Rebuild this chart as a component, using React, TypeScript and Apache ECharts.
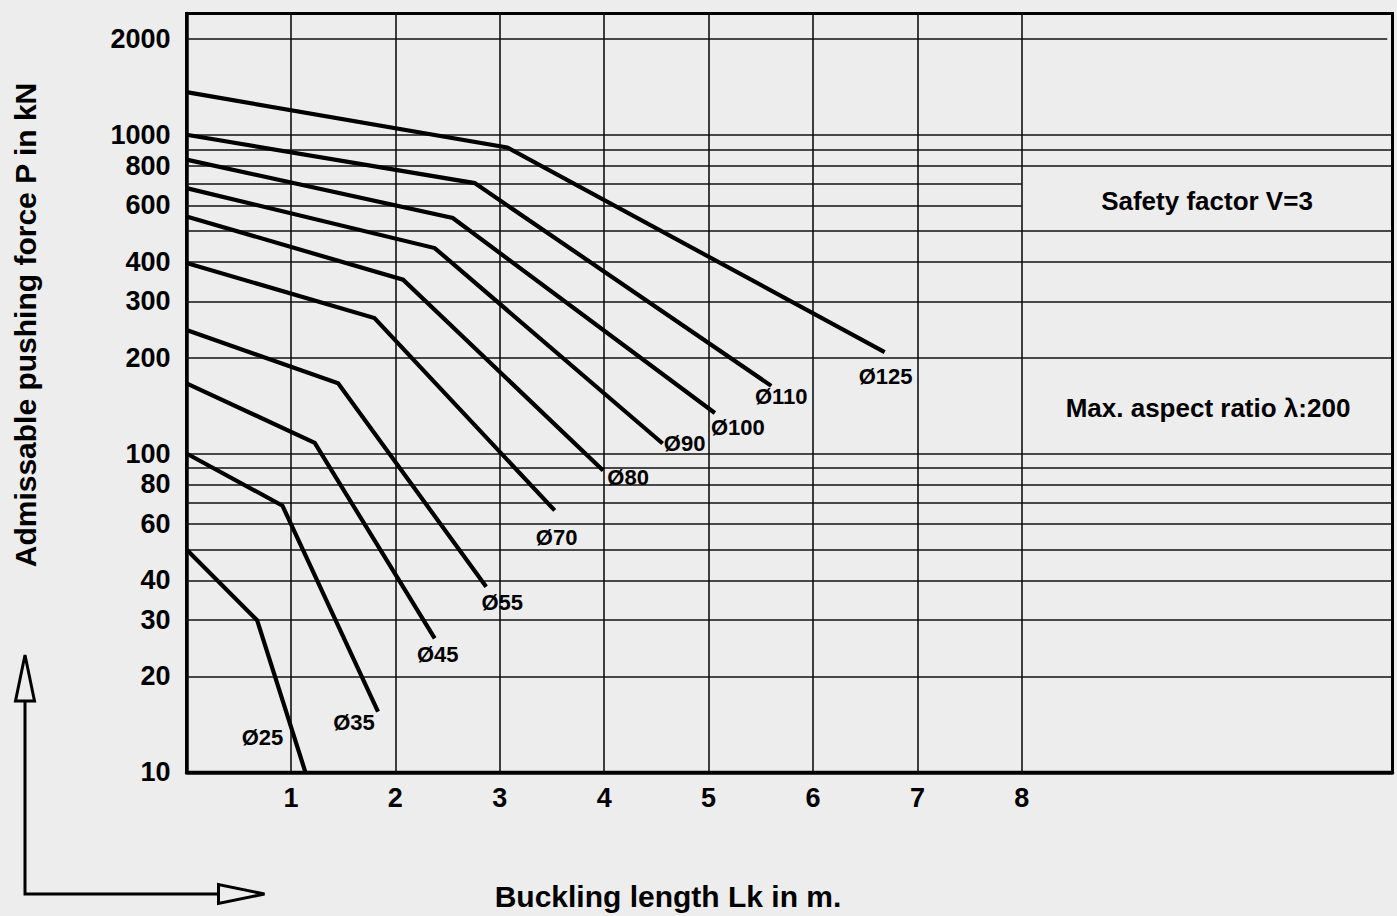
import React, { useEffect, useRef } from "react";
import * as echarts from "echarts";

// ---- data ----
const seriesNames = ["Ø25", "Ø35", "Ø45", "Ø55", "Ø70", "Ø80", "Ø90", "Ø100", "Ø110", "Ø125"];
const d25 = [[0, 50], [0.676, 30], [1.139, 10]];
const d35 = [[0, 100], [0.919, 68.6], [1.834, 15.5]];
const d45 = [[0, 166], [1.228, 108], [2.377, 26.3]];
const d55 = [[0, 244], [1.452, 166], [2.87, 38.2]];
const d70 = [[0, 396], [1.8, 266], [3.526, 66.3]];
const d80 = [[0, 554], [2.074, 351], [3.99, 88.5]];
const d90 = [[0, 680], [2.377, 441], [4.56, 107.5]];
const d100 = [[0, 835], [2.55, 548], [5.06, 134]];
const d110 = [[0, 1000], [2.76, 705], [5.6, 163]];
const d125 = [[0, 1360], [3.07, 912], [6.686, 208]];
const seriesData = [d25, d35, d45, d55, d70, d80, d90, d100, d110, d125];

const xTickLabels = [1, 2, 3, 4, 5, 6, 7, 8];
const yTickLabels = [10, 20, 30, 40, 60, 80, 100, 200, 300, 400, 600, 800, 1000, 2000];
const yGridFull = [20, 30, 40, 50, 60, 70, 80, 90, 100, 200, 300, 400, 500, 800, 900, 1000];
const yGridShort = [600, 700];
const yGridTop = [2000];
const xGrid = [1, 2, 3, 4, 5, 6, 7, 8];

// ---- style ----
const labelOffsets = [
  [-43, -35], [-24, 11], [3, 16], [16, 16], [2, 27],
  [25, 7], [22, 0], [23, 15], [10, 11], [1, 24],
];
const FONT = "'Liberation Sans', Arial, Helvetica, sans-serif";
const BG = "#ededed";

export default function App() {
  const ref = useRef<HTMLDivElement>(null);
  useEffect(() => {
    if (!ref.current) return;
    const chart = echarts.init(ref.current, null, { renderer: "svg" });
    const gridLineStyle = { color: "#111", width: 1.6, type: "solid" as const };
    const markData: any[] = [];
    yGridFull.forEach((v) => markData.push({ yAxis: v }));
    yGridShort.forEach((v) => markData.push([{ coord: [0, v] }, { coord: [8, v] }]));
    yGridTop.forEach((v) => markData.push([{ coord: [0, v] }, { coord: [11.5, v] }]));
    xGrid.forEach((v) => markData.push({ xAxis: v }));

    const curveSeries = seriesData.map((d, i) => ({
      type: "line",
      name: seriesNames[i],
      data: d,
      showSymbol: false,
      symbol: "none",
      z: 5,
      lineStyle: { color: "#000", width: 4.2, cap: "butt", join: "miter" },
    }));

    const labelSeries = {
      type: "scatter",
      symbol: "circle",
      symbolSize: 0.5,
      z: 6,
      silent: true,
      itemStyle: { color: "#000" },
      data: seriesData.map((d, i) => ({
        value: d[d.length - 1],
        label: {
          show: true,
          position: "inside",
          offset: labelOffsets[i],
          formatter: seriesNames[i],
          fontSize: 22,
          fontWeight: "bold",
          fontFamily: FONT,
          color: "#000",
          opacity: 1,
          textBorderWidth: 0,
        },
      })),
    };

    chart.setOption({
      animation: false,
      backgroundColor: BG,
      grid: {
        left: 186.5,
        right: 4.5,
        top: 13.5,
        bottom: 143.7,
        show: true,
        borderColor: "#000",
        borderWidth: 3,
        backgroundColor: BG,
      },
      xAxis: {
        type: "value",
        min: 0,
        max: 11.55,
        axisLine: { show: true, onZero: false, lineStyle: { color: "#000", width: 3.5 } },
        axisTick: { show: false },
        splitLine: { show: false },
        axisLabel: {
          customValues: xTickLabels,
          formatter: (v: number) => String(v),
          margin: 12,
          fontSize: 27,
          fontWeight: "bold",
          fontFamily: FONT,
          color: "#000",
        },
      },
      yAxis: {
        type: "log",
        logBase: 10,
        min: 10,
        max: 2400,
        axisLine: { show: true, onZero: false, lineStyle: { color: "#000", width: 3.5 } },
        axisTick: { show: false },
        splitLine: { show: false },
        minorSplitLine: { show: false },
        axisLabel: {
          customValues: yTickLabels,
          formatter: (v: number) => String(Math.round(v)),
          margin: 16,
          fontSize: 27,
          fontWeight: "bold",
          fontFamily: FONT,
          color: "#000",
        },
      },
      graphic: [
        {
          type: "text",
          x: 668,
          y: 896,
          style: {
            text: "Buckling length Lk in m.",
            font: `bold 30px ${FONT}`,
            fill: "#000",
            align: "center",
            verticalAlign: "middle",
          },
        },
        {
          type: "text",
          x: 25,
          y: 325,
          rotation: Math.PI / 2,
          style: {
            text: "Admissable pushing force P in kN",
            font: `bold 30px ${FONT}`,
            fill: "#000",
            align: "center",
            verticalAlign: "middle",
          },
        },
        {
          type: "text",
          x: 1207,
          y: 201,
          style: {
            text: "Safety factor V=3",
            font: `bold 26px ${FONT}`,
            fill: "#000",
            align: "center",
            verticalAlign: "middle",
          },
        },
        {
          type: "text",
          x: 1208,
          y: 408,
          style: {
            text: "Max. aspect ratio λ:200",
            font: `bold 26px ${FONT}`,
            fill: "#000",
            align: "center",
            verticalAlign: "middle",
          },
        },
        {
          type: "polyline",
          shape: { points: [[25, 701], [25, 894], [218, 894]] },
          style: { stroke: "#000", lineWidth: 3, fill: "none" },
        },
        {
          type: "polygon",
          shape: { points: [[25, 655], [15.5, 701], [34.5, 701]] },
          style: { stroke: "#000", lineWidth: 3, fill: "none" },
        },
        {
          type: "polygon",
          shape: { points: [[264.5, 894], [218.5, 884.6], [218.5, 903.4]] },
          style: { stroke: "#000", lineWidth: 3, fill: "none" },
        },
      ],
      series: [
        {
          type: "line",
          data: [[0, 10]],
          symbol: "none",
          z: 1,
          silent: true,
          lineStyle: { width: 0 },
          markLine: {
            silent: true,
            symbol: ["none", "none"],
            label: { show: false },
            lineStyle: gridLineStyle,
            emphasis: { disabled: true },
            data: markData,
          },
        },
        ...curveSeries,
        labelSeries,
      ],
    });
    return () => chart.dispose();
  }, []);
  return (
    <div
      ref={ref}
      style={{ position: "fixed", left: 0, top: 0, width: 1397, height: 916, background: BG }}
    />
  );
}
